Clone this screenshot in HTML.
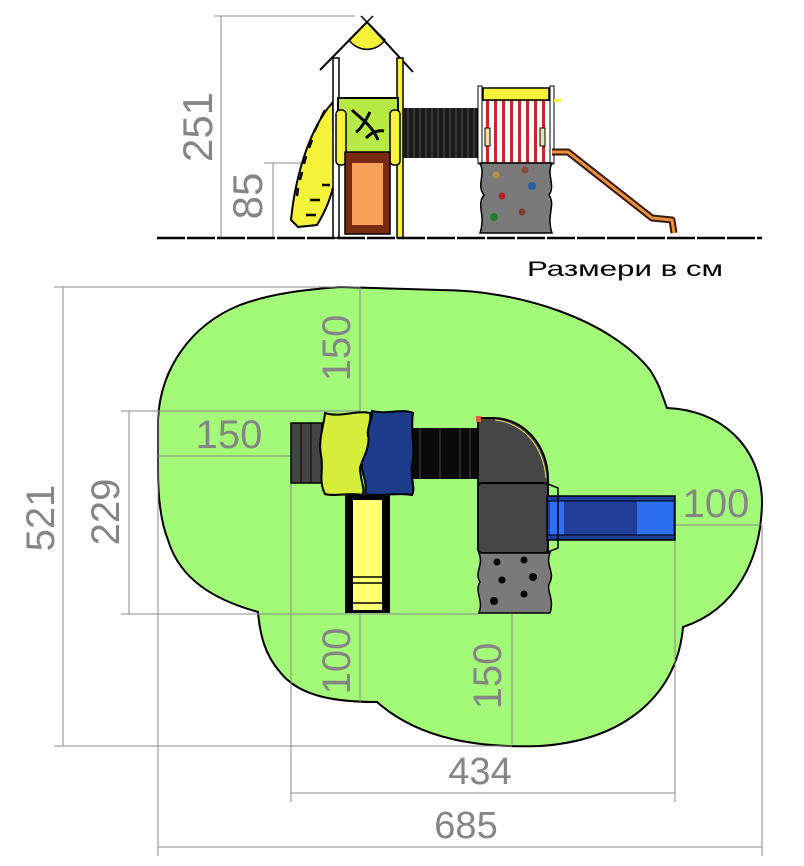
<!DOCTYPE html>
<html><head><meta charset="utf-8"><style>
html,body{margin:0;padding:0;background:#fff;}
svg{display:block;}
text{font-family:"Liberation Sans",sans-serif;fill:#858585;}
</style></head><body>
<svg width="804" height="866" viewBox="0 0 804 866" xmlns="http://www.w3.org/2000/svg">
<g stroke="#8a8a8a" stroke-width="1" fill="none">
<line x1="214" y1="16" x2="355" y2="16"/>
<line x1="221" y1="16" x2="221" y2="238"/>
<line x1="264" y1="163" x2="325" y2="163"/>
<line x1="273" y1="163" x2="273" y2="238"/>
</g>
<text transform="translate(212,127) rotate(-90)" font-size="42" text-anchor="middle">251</text>
<text transform="translate(262,196) rotate(-90)" font-size="42" text-anchor="middle">85</text>

<path d="M333,102 C312,125 296,170 291,220 L298,227 L317,225 C325,212 331,198 334,183 Z" fill="#f5f23a" stroke="#000" stroke-width="2"/>
<g stroke="#000" stroke-width="2.5">
<line x1="325" y1="110" x2="321" y2="118"/><line x1="318" y1="124" x2="314" y2="132"/><line x1="312" y1="140" x2="309" y2="148"/><line x1="306" y1="156" x2="304" y2="164"/><line x1="302" y1="172" x2="300" y2="180"/><line x1="298" y1="188" x2="297" y2="196"/>
<line x1="306" y1="215" x2="316" y2="215"/><line x1="310" y1="200" x2="320" y2="200"/><line x1="322" y1="185" x2="330" y2="185"/>
</g>
<path d="M349,40 A22,22 0 0 0 385,40 L367,22 Z" fill="#f5f23a" stroke="#000" stroke-width="1.5"/>
<line x1="320" y1="70" x2="367" y2="22" stroke="#000" stroke-width="2"/>
<line x1="367" y1="22" x2="413" y2="72" stroke="#000" stroke-width="2"/>
<line x1="361" y1="16" x2="373" y2="28" stroke="#000" stroke-width="1.5"/>
<line x1="373" y1="16" x2="361" y2="28" stroke="#000" stroke-width="1.5"/>
<rect x="333" y="58" width="6" height="180" fill="#fff" stroke="#000" stroke-width="1.5"/>
<rect x="397" y="58" width="6" height="180" fill="#f5f23a" stroke="#000" stroke-width="1.5"/>
<rect x="403" y="108" width="78" height="50" fill="#1a1a1a"/>
<g stroke="#555" stroke-width="1">
<line x1="408" y1="108" x2="408" y2="158"/><line x1="414" y1="108" x2="414" y2="158"/><line x1="420" y1="108" x2="420" y2="158"/><line x1="426" y1="108" x2="426" y2="158"/><line x1="432" y1="108" x2="432" y2="158"/><line x1="438" y1="108" x2="438" y2="158"/><line x1="444" y1="108" x2="444" y2="158"/><line x1="450" y1="108" x2="450" y2="158"/><line x1="456" y1="108" x2="456" y2="158"/><line x1="462" y1="108" x2="462" y2="158"/><line x1="468" y1="108" x2="468" y2="158"/><line x1="474" y1="108" x2="474" y2="158"/>
</g>
<rect x="338" y="98" width="60" height="56" fill="#b8ea45" stroke="#000" stroke-width="2"/>
<path d="M352,110 C360,118 372,125 378,140 M370,112 C365,122 360,130 356,132 M366,138 C372,132 378,130 384,131" stroke="#000" stroke-width="3" fill="none"/>
<rect x="336" y="110" width="10" height="55" rx="4" fill="#f5f23a" stroke="#000" stroke-width="1.5"/>
<rect x="390" y="110" width="10" height="55" rx="4" fill="#f5f23a" stroke="#000" stroke-width="1.5"/>
<rect x="345" y="152" width="45" height="82" fill="#7a2a10" stroke="#000" stroke-width="1.5"/>
<rect x="352" y="163" width="31" height="62" fill="#f6a05a"/>
<rect x="480" y="100" width="72" height="63" fill="#fff" stroke="#000" stroke-width="1.5"/>
<g fill="#d0202a">
<rect x="486" y="100" width="3" height="63"/><rect x="494" y="100" width="3" height="63"/><rect x="502" y="100" width="3" height="63"/><rect x="510" y="100" width="3" height="63"/><rect x="518" y="100" width="3" height="63"/><rect x="526" y="100" width="3" height="63"/><rect x="534" y="100" width="3" height="63"/><rect x="542" y="100" width="3" height="63"/>
</g>
<rect x="483" y="88" width="66" height="12" fill="#f5f23a" stroke="#000" stroke-width="1.5"/>
<rect x="478" y="86" width="4" height="78" fill="#fff" stroke="#000"/>
<rect x="550" y="86" width="4" height="78" fill="#fff" stroke="#000"/>
<rect x="554" y="99" width="8" height="3" fill="#f5f23a"/>
<rect x="485" y="128" width="5" height="18" fill="#f0e0a0" stroke="#000"/>
<rect x="540" y="128" width="5" height="18" fill="#f0e0a0" stroke="#000"/>
<path d="M480,163 L552,163 C546,175 556,185 549,195 C556,205 546,215 552,233 L480,233 C486,215 476,205 484,195 C476,185 486,175 480,163 Z" fill="#7a7a7a" stroke="#000" stroke-width="1.5"/>
<circle cx="496" cy="175" r="3.5" fill="#b89040"/><circle cx="525" cy="170" r="3.5" fill="#8a4a30"/>
<circle cx="502" cy="196" r="3.5" fill="#b02020"/><circle cx="532" cy="186" r="4" fill="#2a5aa0"/>
<circle cx="522" cy="212" r="3.5" fill="#7a4030"/><circle cx="494" cy="217" r="4" fill="#20802a"/>
<path d="M552,152 L568,152 L652,218 L672,220 L674,233" stroke="#3a1a10" stroke-width="7" fill="none" stroke-linejoin="round"/>
<path d="M552,152 L568,152 L652,218 L672,220 L674,233" stroke="#e8903a" stroke-width="3" fill="none" stroke-linejoin="round"/>
<line x1="157" y1="238" x2="762" y2="238" stroke="#000" stroke-width="2.5" stroke-dasharray="28,2"/>
<text x="527" y="276" font-size="21" textLength="196" lengthAdjust="spacingAndGlyphs" style="fill:#000">Размери в см</text>

<path d="M158,470 L158,420 C160,370 190,325 240,305 C270,294 300,290 340,287 L440,290 C520,290 610,320 650,370 C660,385 663,398 667,408 C720,410 760,445 762,500 C762,560 735,610 683,627 C678,690 630,740 540,746 C480,748 420,740 377,702 C340,702 300,698 280,672 C265,655 260,635 258,612 C215,600 180,580 168,540 C160,520 158,495 158,470 Z" fill="#a3f978" stroke="#000" stroke-width="2"/>

<g stroke="#8a8a8a" stroke-width="1" fill="none">
<line x1="54" y1="287" x2="360" y2="287"/>
<line x1="63" y1="287" x2="63" y2="746"/>
<line x1="54" y1="746" x2="512" y2="746"/>
<line x1="121" y1="411" x2="360" y2="411"/>
<line x1="129" y1="411" x2="129" y2="614"/>
<line x1="121" y1="614" x2="478" y2="614"/>
<line x1="360" y1="287" x2="360" y2="411"/>
<line x1="360" y1="614" x2="360" y2="702"/>
<line x1="512" y1="614" x2="512" y2="746"/>
<line x1="158" y1="456" x2="291" y2="456"/>
<line x1="158" y1="410" x2="158" y2="856"/>
<line x1="291" y1="483" x2="291" y2="802"/>
<line x1="675" y1="540" x2="675" y2="802"/>
<line x1="675" y1="525" x2="762" y2="525"/>
<line x1="762" y1="525" x2="762" y2="856"/>
<line x1="291" y1="793" x2="675" y2="793"/>
<line x1="158" y1="847" x2="762" y2="847"/>
</g>

<rect x="291" y="423" width="31" height="60" fill="#444" stroke="#000" stroke-width="1.5"/>
<line x1="301" y1="423" x2="301" y2="483" stroke="#000"/><line x1="311" y1="423" x2="311" y2="483" stroke="#000"/>
<rect x="345" y="495" width="45" height="118" fill="#000"/>
<rect x="353" y="500" width="29" height="110" fill="#ffff70"/>
<line x1="353" y1="577" x2="382" y2="577" stroke="#000" stroke-width="1.5"/><line x1="353" y1="583" x2="382" y2="583" stroke="#000" stroke-width="1.5"/><line x1="353" y1="603" x2="382" y2="603" stroke="#000" stroke-width="1.5"/>
<rect x="410" y="428" width="72" height="51" fill="#0a0a0a"/>
<g stroke="#444" stroke-width="1"><line x1="420" y1="428" x2="420" y2="479"/><line x1="440" y1="428" x2="440" y2="479"/><line x1="460" y1="428" x2="460" y2="479"/><line x1="470" y1="428" x2="470" y2="479"/></g>
<path d="M325,413 C340,418 355,410 370,413 C372,425 364,432 370,440 C372,450 362,458 360,468 C360,480 366,490 362,495 C350,492 335,497 325,494 C318,480 324,470 321,455 C318,440 324,425 325,413 Z" fill="#d4ee3a" stroke="#000" stroke-width="2"/>
<path d="M372,411 C388,415 402,408 413,413 C410,430 416,450 412,465 C410,478 416,488 412,495 C398,492 380,497 365,494 C368,480 360,472 362,462 C366,452 370,445 368,432 C368,425 373,418 372,411 Z" fill="#1c3d8a" stroke="#000" stroke-width="2"/>
<path d="M478,418 L495,418 C525,420 547,445 548,478 L548,484 L478,484 Z" fill="#464646" stroke="#000" stroke-width="2"/>
<path d="M495,420 C523,423 543,445 546,478" stroke="#f0e060" stroke-width="1" fill="none"/>
<rect x="476" y="416" width="5" height="6" fill="#e06040"/>
<rect x="478" y="483" width="70" height="70" rx="4" fill="#464646" stroke="#000" stroke-width="2"/>
<rect x="547" y="496" width="128" height="44" fill="#1f3f9a" stroke="#000" stroke-width="1.5"/>
<rect x="637" y="501" width="36" height="34" fill="#2e6ef0"/>
<rect x="550" y="501" width="14" height="34" fill="#2e6ef0"/>
<line x1="547" y1="501" x2="675" y2="501" stroke="#000"/><line x1="547" y1="535" x2="675" y2="535" stroke="#000"/>
<path d="M548,484 L558,488 L558,548 L548,552" stroke="#000" stroke-width="1.5" fill="none"/>
<path d="M479,553 L550,553 C545,565 555,572 550,582 C545,590 555,598 550,613 L479,613 C484,600 474,592 480,582 C474,572 484,565 479,553 Z" fill="#7a7a7a" stroke="#000" stroke-width="1.5"/>
<circle cx="497" cy="562" r="3.5" fill="#000"/><circle cx="524" cy="560" r="3.5" fill="#000"/>
<circle cx="502" cy="580" r="3.5" fill="#000"/><circle cx="533" cy="577" r="4" fill="#000"/>
<circle cx="494" cy="601" r="4" fill="#000"/><circle cx="524" cy="594" r="3.5" fill="#000"/>

<text transform="translate(54,518) rotate(-90)" font-size="40" text-anchor="middle">521</text>
<text transform="translate(119,512) rotate(-90)" font-size="40" text-anchor="middle">229</text>
<text transform="translate(350,348) rotate(-90)" font-size="40" text-anchor="middle">150</text>
<text transform="translate(350,661) rotate(-90)" font-size="40" text-anchor="middle">100</text>
<text transform="translate(501,676) rotate(-90)" font-size="40" text-anchor="middle">150</text>
<text x="229" y="448" font-size="40" text-anchor="middle">150</text>
<text x="716" y="517" font-size="40" text-anchor="middle">100</text>
<text x="480" y="784" font-size="38" text-anchor="middle">434</text>
<text x="466" y="838" font-size="38" text-anchor="middle">685</text>
</svg>
</body></html>
